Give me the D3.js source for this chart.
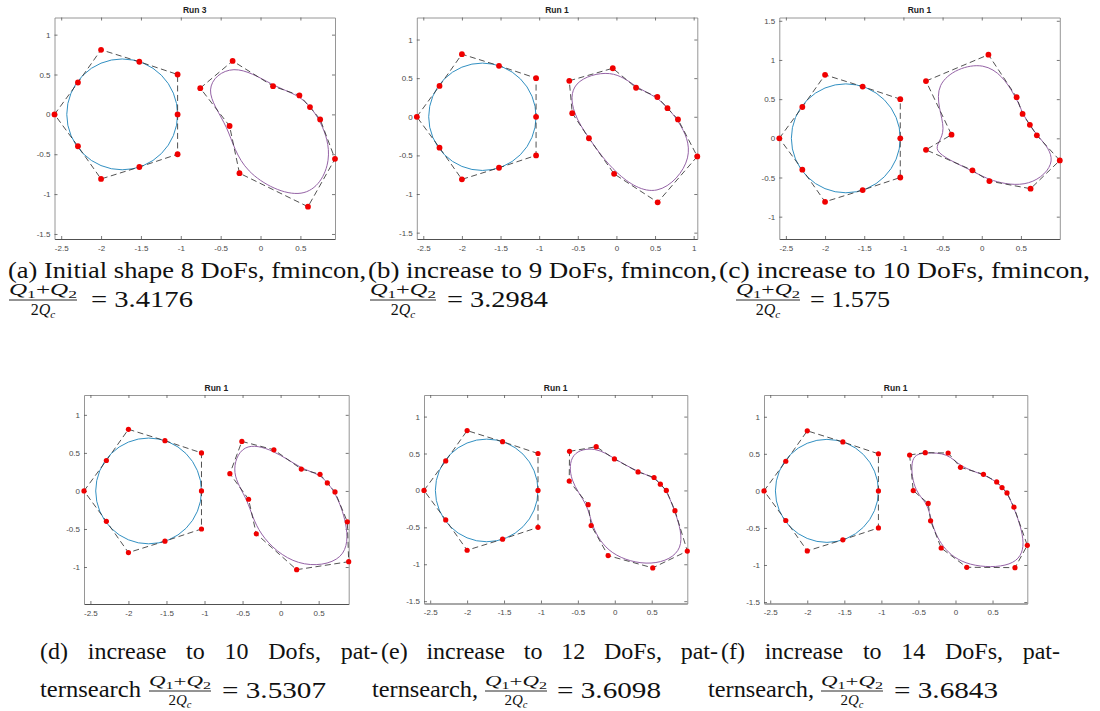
<!DOCTYPE html>
<html>
<head>
<meta charset="utf-8">
<script src="https://cdn.jsdelivr.net/npm/d3@7"></script>
<style>
  body { margin: 0; background: #fff; }
  svg { display: block; }
  .serif { font-family: "Liberation Serif", "Times New Roman", Times, serif; }
  .sans { font-family: "Liberation Sans", Arial, Helvetica, sans-serif; }
</style>
</head>
<body>
<svg id="fig" width="1100" height="711"></svg>
<script>
// ---------------- data ----------------
// Reference circle (same in every run)
const circleCenter = [-1.735, 0];
const circleRadius = 0.695;
// Control polygon around the circle
const circleCtrl = [[-2.584, 0], [-2.29, 0.4], [-2, 0.81], [-1.52, 0.66], [-1.04, 0.5],
  [-1.04, 0], [-1.04, -0.5], [-1.52, -0.66], [-2, -0.81], [-2.29, -0.4]];

// Control polygons of the optimised shape (closed cubic B-spline)
const shapeA = [[-0.756, 0.329], [-0.35, 0.67], [0.157, 0.354], [0.488, 0.238], [0.62, 0.092],
  [0.748, -0.063], [0.934, -0.558], [0.595, -1.158], [-0.264, -0.738], [-0.388, -0.146]];
const shapeB = [[-0.61, 0.466], [-0.047, 0.628], [0.254, 0.376], [0.53, 0.256], [0.661, 0.111],
  [0.797, -0.034], [1.047, -0.513], [0.534, -1.107], [-0.03, -0.739], [-0.356, -0.278], [-0.572, 0.047]];
const shapeC = [[-0.712, 0.731], [0.085, 1.067], [0.445, 0.525], [0.521, 0.311], [0.614, 0.172],
  [0.703, 0.038], [0.996, -0.282], [0.623, -0.643], [0.097, -0.546], [-0.119, -0.408],
  [-0.712, -0.147], [-0.386, 0.046]];
const shapeD = [[-0.509, 0.651], [-0.088, 0.541], [0.272, 0.288], [0.518, 0.218], [0.614, 0.105],
  [0.715, -0.013], [0.877, -0.406], [0.895, -0.93], [0.211, -1.035], [-0.32, -0.563],
  [-0.421, -0.109], [-0.667, 0.227]];
const shapeE = [[-0.613, 0.529], [-0.252, 0.592], [-0.005, 0.426], [0.315, 0.251], [0.532, 0.175],
  [0.617, 0.085], [0.698, 0], [0.815, -0.274], [0.982, -0.821], [0.514, -1.049], [-0.09, -0.883],
  [-0.32, -0.475], [-0.36, -0.193], [-0.617, 0.126]];
const shapeF = [[-0.619, 0.484], [-0.408, 0.516], [-0.099, 0.511], [0.067, 0.318], [0.377, 0.224],
  [0.556, 0.121], [0.628, 0.045], [0.695, -0.027], [0.789, -0.22], [0.969, -0.735], [0.803, -1.036],
  [0.152, -1.031], [-0.193, -0.771], [-0.336, -0.404], [-0.368, -0.17], [-0.57, 0.004]];

const runTitles = ["Run 3", "Run 1", "Run 1", "Run 1", "Run 1", "Run 1"];
const xTickValues = [-2.5, -2, -1.5, -1, -0.5, 0, 0.5, 1];
const yTickValues = [-1.5, -1, -0.5, 0, 0.5, 1, 1.5];

// Sub-figure captions
const captionTop = ["(a) Initial shape 8 DoFs, fmincon,", "(b) increase to 9 DoFs, fmincon,",
  "(c) increase to 10 DoFs, fmincon,"];
const captionBottom = ["(d) increase to 10 Dofs, pat-", "(e) increase to 12 DoFs, pat-",
  "(f) increase to 14 DoFs, pat-"];
const captionBottomLead = ["ternsearch", "ternsearch,", "ternsearch,"];
const ratios = [3.4176, 3.2984, 1.575, 3.5307, 3.6098, 3.6843];

// ---------------- drawing ----------------
const svg = d3.select("#fig");
const shapes = [shapeA, shapeB, shapeC, shapeD, shapeE, shapeF];

// Plot boxes (pixel layout of the 2x3 grid)
const boxes = [
  { x: 54.5, y: 17.5, w: 280.5, h: 221.5 },
  { x: 416.8, y: 17.5, w: 280.5, h: 221.5 },
  { x: 779.3, y: 17.5, w: 280.5, h: 221.5 },
  { x: 84, y: 395, w: 264.7, h: 209 },
  { x: 424, y: 395, w: 263.3, h: 208.5 },
  { x: 764, y: 395, w: 263.3, h: 208.5 }
];

function drawPanel(box, title, shape) {
  const g = svg.append("g");
  const pts = circleCtrl.concat(shape);
  // equal data aspect, x limits tight to the data
  const xDom = d3.extent(pts, d => d[0]);
  const yExt = d3.extent(pts, d => d[1]);
  const k = box.w / (xDom[1] - xDom[0]);
  const yc = (yExt[0] + yExt[1]) / 2;
  const half = box.h / (2 * k);
  const x = d3.scaleLinear().domain(xDom).range([box.x, box.x + box.w]);
  const y = d3.scaleLinear().domain([yc - half, yc + half]).range([box.y + box.h, box.y]);

  const xt = xTickValues.filter(v => v >= xDom[0] - 1e-9 && v <= xDom[1] + 1e-9);
  const yt = yTickValues.filter(v => v >= y.domain()[0] && v <= y.domain()[1]);

  const styleAxis = (sel, stroke) => {
    sel.attr("font-family", null).attr("font-size", null).attr("class", "sans");
    sel.selectAll("path.domain").attr("stroke", stroke).attr("stroke-width", 0.9);
    sel.selectAll(".tick line").attr("stroke", "#555").attr("stroke-width", 0.8);
    sel.selectAll(".tick text").attr("fill", "#4a4a4a").style("font-size", "8px");
  };

  const bottom = g.append("g").attr("transform", `translate(0,${box.y + box.h})`)
    .call(d3.axisBottom(x).tickValues(xt).tickSizeInner(-3).tickSizeOuter(0).tickPadding(6)
      .tickFormat(d => String(d)));
  styleAxis(bottom, "#3c3c3c");
  const left = g.append("g").attr("transform", `translate(${box.x},0)`)
    .call(d3.axisLeft(y).tickValues(yt).tickSizeInner(-3).tickSizeOuter(0).tickPadding(4)
      .tickFormat(d => String(d)));
  styleAxis(left, "#8a8a8a");
  const top = g.append("g").attr("transform", `translate(0,${box.y})`)
    .call(d3.axisTop(x).tickValues(xt).tickSizeInner(-3).tickSizeOuter(0).tickFormat(() => ""));
  styleAxis(top, "#8a8a8a");
  const right = g.append("g").attr("transform", `translate(${box.x + box.w},0)`)
    .call(d3.axisRight(y).tickValues(yt).tickSizeInner(-3).tickSizeOuter(0).tickFormat(() => ""));
  styleAxis(right, "#8a8a8a");

  // title
  g.append("text").attr("class", "sans")
    .attr("x", box.x + box.w / 2).attr("y", box.y - 4.5)
    .attr("text-anchor", "middle")
    .style("font-size", "8.5px").style("font-weight", "bold")
    .attr("fill", "#222").text(title);

  // circle
  g.append("ellipse")
    .attr("cx", x(circleCenter[0])).attr("cy", y(circleCenter[1]))
    .attr("rx", x(circleCenter[0] + circleRadius) - x(circleCenter[0]))
    .attr("ry", y(circleCenter[1]) - y(circleCenter[1] + circleRadius))
    .attr("fill", "none").attr("stroke", "#3290c2").attr("stroke-width", 1);

  // B-spline shape
  const spline = d3.line().x(d => x(d[0])).y(d => y(d[1])).curve(d3.curveBasisClosed);
  g.append("path").attr("d", spline(shape))
    .attr("fill", "none").attr("stroke", "#9563a6").attr("stroke-width", 1);

  // control polygons
  const poly = d3.line().x(d => x(d[0])).y(d => y(d[1])).curve(d3.curveLinearClosed);
  [circleCtrl, shape].forEach(p => {
    g.append("path").attr("d", poly(p))
      .attr("fill", "none").attr("stroke", "#333").attr("stroke-width", 0.85)
      .attr("stroke-dasharray", "6,3.5");
  });

  // control points
  g.selectAll("circle.cp").data(pts).join("circle").attr("class", "cp")
    .attr("cx", d => x(d[0])).attr("cy", d => y(d[1])).attr("r", box.h > 215 ? 2.9 : 2.6)
    .attr("fill", "#f00000");
}

boxes.forEach((b, i) => drawPanel(b, runTitles[i], shapes[i]));

// ---------------- captions ----------------
function caption(str, x, y, len, size) {
  svg.append("text").attr("class", "serif").attr("x", x).attr("y", y)
    .attr("textLength", len).attr("lengthAdjust", "spacingAndGlyphs")
    .style("font-size", size + "px").attr("fill", "#111")
    .text(str);
}

// justified line: the spare width goes into the word gaps
function justified(str, x, y, len, size) {
  const t = svg.append("text").attr("class", "serif").attr("x", x).attr("y", y)
    .style("font-size", size + "px").attr("fill", "#111").text(str);
  const natural = t.node().getComputedTextLength();
  const gaps = (str.match(/ /g) || []).length;
  t.style("word-spacing", Math.max(0, (len - natural) / gaps) + "px");
}

// fraction (Q1+Q2)/(2Qc) followed by "= value"
function ratio(x, yBar, value, fracW, fs, eqX, eqLen) {
  const g = svg.append("g").attr("class", "serif");
  const sub = fs * 0.7;
  const num = g.append("text").attr("x", x).attr("y", yBar - 5)
    .attr("textLength", fracW).attr("lengthAdjust", "spacingAndGlyphs")
    .style("font-size", fs + "px").attr("fill", "#111");
  num.append("tspan").style("font-style", "italic").text("Q");
  num.append("tspan").attr("dy", fs * 0.18).style("font-size", sub + "px").text("1");
  num.append("tspan").attr("dy", -fs * 0.18).text("+");
  num.append("tspan").style("font-style", "italic").text("Q");
  num.append("tspan").attr("dy", fs * 0.18).style("font-size", sub + "px").text("2");
  const den = g.append("text").attr("y", yBar + fs * 0.92)
    .style("font-size", fs + "px").attr("fill", "#111");
  den.append("tspan").text("2");
  den.append("tspan").style("font-style", "italic").text("Q");
  den.append("tspan").attr("dy", fs * 0.18).style("font-size", sub + "px").style("font-style", "italic").text("c");
  const natural = num.node().getComputedTextLength();
  const scaleX = fracW / natural;
  const dw = den.node().getComputedTextLength() * scaleX;
  den.attr("x", x + (fracW - dw) / 2)
    .attr("textLength", dw).attr("lengthAdjust", "spacingAndGlyphs");
  g.append("line").attr("x1", x).attr("x2", x + fracW).attr("y1", yBar).attr("y2", yBar)
    .attr("stroke", "#111").attr("stroke-width", 0.9);
  svg.append("text").attr("class", "serif").attr("x", eqX).attr("y", yBar + 7)
    .attr("textLength", eqLen).attr("lengthAdjust", "spacingAndGlyphs")
    .style("font-size", "24px").attr("fill", "#111")
    .text("= " + value);
}

// top row
const topX = [8, 368, 719], topLen = [358, 349, 371];
captionTop.forEach((s, i) => caption(s, topX[i], 278, topLen[i], 23));
const topFracX = [9, 370, 736], topFracW = [68, 66, 64];
const topEqX = [91, 447, 810], topEqLen = [102, 101, 80];
ratios.slice(0, 3).forEach((v, i) => ratio(topFracX[i], 300, v, topFracW[i], 16, topEqX[i], topEqLen[i]));

// bottom row
const botX = [40, 381, 721], botLen = [338, 337, 339];
captionBottom.forEach((s, i) => justified(s, botX[i], 659, botLen[i], 24));
const leadX = [40, 372, 708], leadLen = [101, 106, 106];
captionBottomLead.forEach((s, i) => caption(s, leadX[i], 697, leadLen[i], 23));
const botFracX = [149, 485, 821], botFracW = [62, 62, 62];
const botEqX = [222, 557, 894], botEqLen = [104, 104, 104];
ratios.slice(3).forEach((v, i) => ratio(botFracX[i], 691, v, botFracW[i], 15, botEqX[i], botEqLen[i]));
</script>
</body>
</html>
